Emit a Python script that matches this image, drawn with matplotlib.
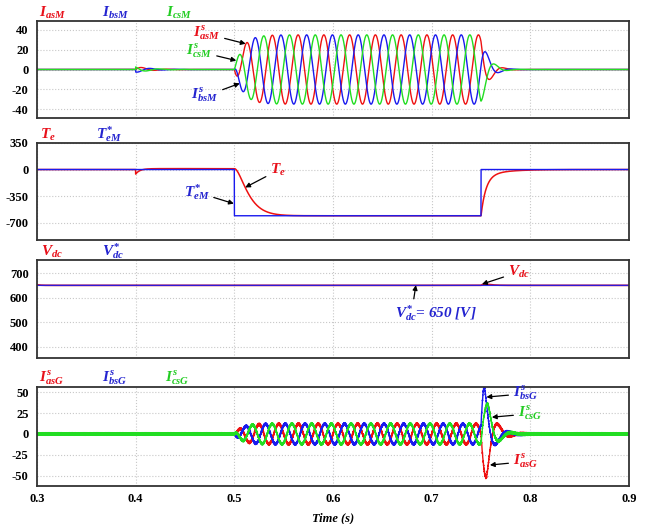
import numpy as np
import matplotlib.pyplot as plt

plt.rcParams['font.family'] = ['Liberation Serif', 'DejaVu Serif']
plt.rcParams['font.weight'] = 'bold'
plt.rcParams['mathtext.fontset'] = 'custom'
plt.rcParams['mathtext.it'] = 'Liberation Serif:italic:bold'
plt.rcParams['mathtext.rm'] = 'Liberation Serif:bold'
plt.rcParams['mathtext.bf'] = 'Liberation Serif:bold'
plt.rcParams['axes.unicode_minus'] = False

# ---- values ----
x_ticks = [0.3, 0.4, 0.5, 0.6, 0.7, 0.8, 0.9]
t_dist = 0.4      # small disturbance
t_on = 0.5        # load applied
t_off = 0.75      # load removed

# motor currents
im_amp = 35.0
im_freq = 38.3
im_peak_t = 0.5124
im_rise = 0.0084
im_fall = 0.0075
im_dist_amp = 3.0

# torque
te_ref_on = -610.0
te_dist = -60.0
te_offset = 12.0

# dc link
vdc_ref = 650.0
vdc_bump = 5.0

# grid currents
ig_amp = 12.0
ig_freq = 50.0
ig_ripple = [1.1, 0.6]
ig_spike_peak = [-50.0, 53.0, 35.0]   # a, b, c
ig_spike_t = [0.7555, 0.7535, 0.757]

# axes
ylim1, yticks1 = (-49, 49), [40, 20, 0, -20, -40]
ylim2, yticks2 = (-930, 350), [350, 0, -350, -700]
ylim3, yticks3 = (355, 753), [700, 600, 500, 400]
ylim4, yticks4 = (-62, 56), [50, 25, 0, -25, -50]

RED = '#ee1111'
BLUE = '#1a1aee'
GREEN = '#22dd22'
TRED = '#e8101a'
TBLUE = '#2424d0'
TGREEN = '#22cc22'

t = np.linspace(0.3, 0.9, 12001)
shift = [0.0, -2 * np.pi / 3, 2 * np.pi / 3]

# motor currents
env = np.zeros_like(t)
on = (t >= t_on) & (t < t_off)
after = t >= t_off
env[on] = 1 - np.exp(-(t[on] - t_on) / im_rise)
env[after] = (1 - np.exp(-(t_off - t_on) / im_rise)) * np.exp(-(t[after] - t_off) / im_fall)
denv = np.where((t >= t_dist) & (t < t_on), im_dist_amp * np.exp(-(t - t_dist) / 0.015), 0.0)
i_motor = []
for k in range(3):
    i = im_amp * env * np.cos(2 * np.pi * im_freq * (t - im_peak_t) + shift[k])
    i += denv * np.sin(2 * np.pi * im_freq * (t - t_dist) + shift[k])
    i_motor.append(i)

# torque
te = np.zeros_like(t)
m1 = (t >= t_dist) & (t < t_on)
dt = t[m1] - t_dist
te[m1] = te_dist * np.exp(-dt / 0.004) + te_offset * (1 - np.exp(-dt / 0.006))
x = (t[on] - t_on) / 0.008
te[on] = te_offset + (te_ref_on - te_offset) * (1 - (1 + x) * np.exp(-x))
dt = t[after] - t_off
te[after] = te_ref_on * (0.85 * np.exp(-dt / 0.005) + 0.15 * np.exp(-dt / 0.02))
te_ref = np.where(on, te_ref_on, 0.0)

def te_at(tt):
    return np.interp(tt, t, te)

# dc link
vdc = vdc_ref + 3 * np.exp(-(t - 0.3) / 0.003)
dt = np.clip(t - t_off, 0, None)
vdc += np.where(after, vdc_bump * (dt / 0.004) * np.exp(1 - dt / 0.004), 0.0)
vdc_star = np.full_like(t, vdc_ref)

# grid currents
genv = np.zeros_like(t)
genv[on] = 1 - np.exp(-(t[on] - t_on) / 0.008)
genv[after] = (1 - np.exp(-(t_off - t_on) / 0.008)) * np.exp(-(t[after] - t_off) / 0.003)
i_grid = []
for k in range(3):
    i = ig_amp * genv * np.sin(2 * np.pi * ig_freq * (t - t_on) + shift[k])
    tp = ig_spike_t[k]
    a = ig_spike_peak[k]
    rise = (t >= t_off) & (t < tp)
    fall = t >= tp
    sp = np.zeros_like(t)
    sp[rise] = a * np.sin(np.pi / 2 * (t[rise] - t_off) / (tp - t_off))
    sp[fall] = a * np.exp(-(t[fall] - tp) / 0.008) * np.cos(2 * np.pi * 40 * (t[fall] - tp))
    i += sp
    i += ig_ripple[0] * np.sin(2 * np.pi * 2510 * t + 1.7 * k) + ig_ripple[1] * np.sin(2 * np.pi * 3930 * t + 0.9 * k)
    i_grid.append(i)

fig = plt.figure(figsize=(6.47, 5.24), dpi=100)
L, W = 37 / 647, 592 / 647
ax1 = fig.add_axes([L, 406 / 524, W, 97 / 524])
ax2 = fig.add_axes([L, 284 / 524, W, 97 / 524])
ax3 = fig.add_axes([L, 166 / 524, W, 98 / 524])
ax4 = fig.add_axes([L, 38 / 524, W, 99 / 524])


def style(ax, ylim, yticks, bottom=False):
    ax.set_xlim(0.3, 0.9)
    ax.set_ylim(*ylim)
    ax.set_xticks(x_ticks)
    ax.set_yticks(yticks)
    ax.grid(True, color='#c8c8c8', linestyle=':', linewidth=0.8)
    ax.tick_params(length=0, labelsize=9, pad=6)
    ax.tick_params(axis='x', pad=5, labelbottom=bottom)
    for s in ax.spines.values():
        s.set_color('#333333')
        s.set_linewidth(1.3)


def head(ax, items):
    for xpos, txt, col in items:
        ax.text(xpos, 1.045, txt, color=col, fontsize=11, transform=ax.transAxes,
                ha='left', va='baseline')


def note(ax, txt, col, xy, xytext, ha, relpos=(0.5, 0.5)):
    ax.annotate(txt, xy=xy, xytext=xytext, color=col, fontsize=11, fontstyle='italic',
                ha=ha, va='center',
                arrowprops=dict(arrowstyle='-|>', color='k', lw=0.9, mutation_scale=7,
                                shrinkA=1, shrinkB=0, relpos=relpos))


# panel 1
ax1.plot(t, i_motor[0], color=RED, lw=1.0)
ax1.plot(t, i_motor[1], color=BLUE, lw=1.0)
ax1.plot(t, i_motor[2], color=GREEN, lw=1.0)
style(ax1, ylim1, yticks1)
head(ax1, [(0.003, r'$I_{asM}$', TRED), (0.11, r'$I_{bsM}$', TBLUE), (0.218, r'$I_{csM}$', TGREEN)])
note(ax1, r'$I_{asM}^{s}$', TRED, (0.5115, 26), (0.486, 36), 'right')
note(ax1, r'$I_{csM}^{s}$', TGREEN, (0.502, 9), (0.478, 18), 'right')
note(ax1, r'$I_{bsM}^{s}$', TBLUE, (0.5055, -14), (0.484, -27), 'right')

# panel 2
ax2.plot(t, te, color=RED, lw=1.1)
ax2.plot(t, te_ref, color=BLUE, lw=1.0)
style(ax2, ylim2, yticks2)
head(ax2, [(0.005, r'$T_{e}$', TRED), (0.10, r'$T_{eM}^{*}$', TBLUE)])
note(ax2, r'$T_{e}$', TRED, (0.511, te_at(0.511)), (0.536, -12), 'left')
note(ax2, r'$T_{eM}^{*}$', TBLUE, (0.4995, -450), (0.475, -300), 'right')

# panel 3
ax3.plot(t, vdc, color=RED, lw=1.2)
ax3.plot(t, vdc_star, color=BLUE, lw=1.0, alpha=0.9)
style(ax3, ylim3, yticks3)
head(ax3, [(0.007, r'$V_{dc}$', TRED), (0.11, r'$V_{dc}^{*}$', TBLUE)])
note(ax3, r'$V_{dc}^{*}$= 650 [V]', TBLUE, (0.684, 651), (0.663, 538), 'left', relpos=(0.22, 1.0))
note(ax3, r'$V_{dc}$', TRED, (0.751, 655), (0.777, 704), 'left')

# panel 4
ax4.plot(t, i_grid[0], color=RED, lw=1.0)
ax4.plot(t, i_grid[1], color=BLUE, lw=1.0)
ax4.plot(t, i_grid[2], color=GREEN, lw=1.0)
style(ax4, ylim4, yticks4, bottom=True)
head(ax4, [(0.003, r'$I_{asG}^{s}$', TRED), (0.11, r'$I_{bsG}^{s}$', TBLUE), (0.216, r'$I_{csG}^{s}$', TGREEN)])
note(ax4, r'$I_{bsG}^{s}$', TBLUE, (0.7555, 44), (0.782, 48), 'left')
note(ax4, r'$I_{csG}^{s}$', TGREEN, (0.761, 20), (0.787, 24), 'left')
note(ax4, r'$I_{asG}^{s}$', TRED, (0.759, -37), (0.782, -33), 'left')
ax4.set_xlabel('Time (s)', fontsize=9, fontstyle='italic', fontweight='bold', labelpad=5)

fig.savefig('out.png', dpi=100)
